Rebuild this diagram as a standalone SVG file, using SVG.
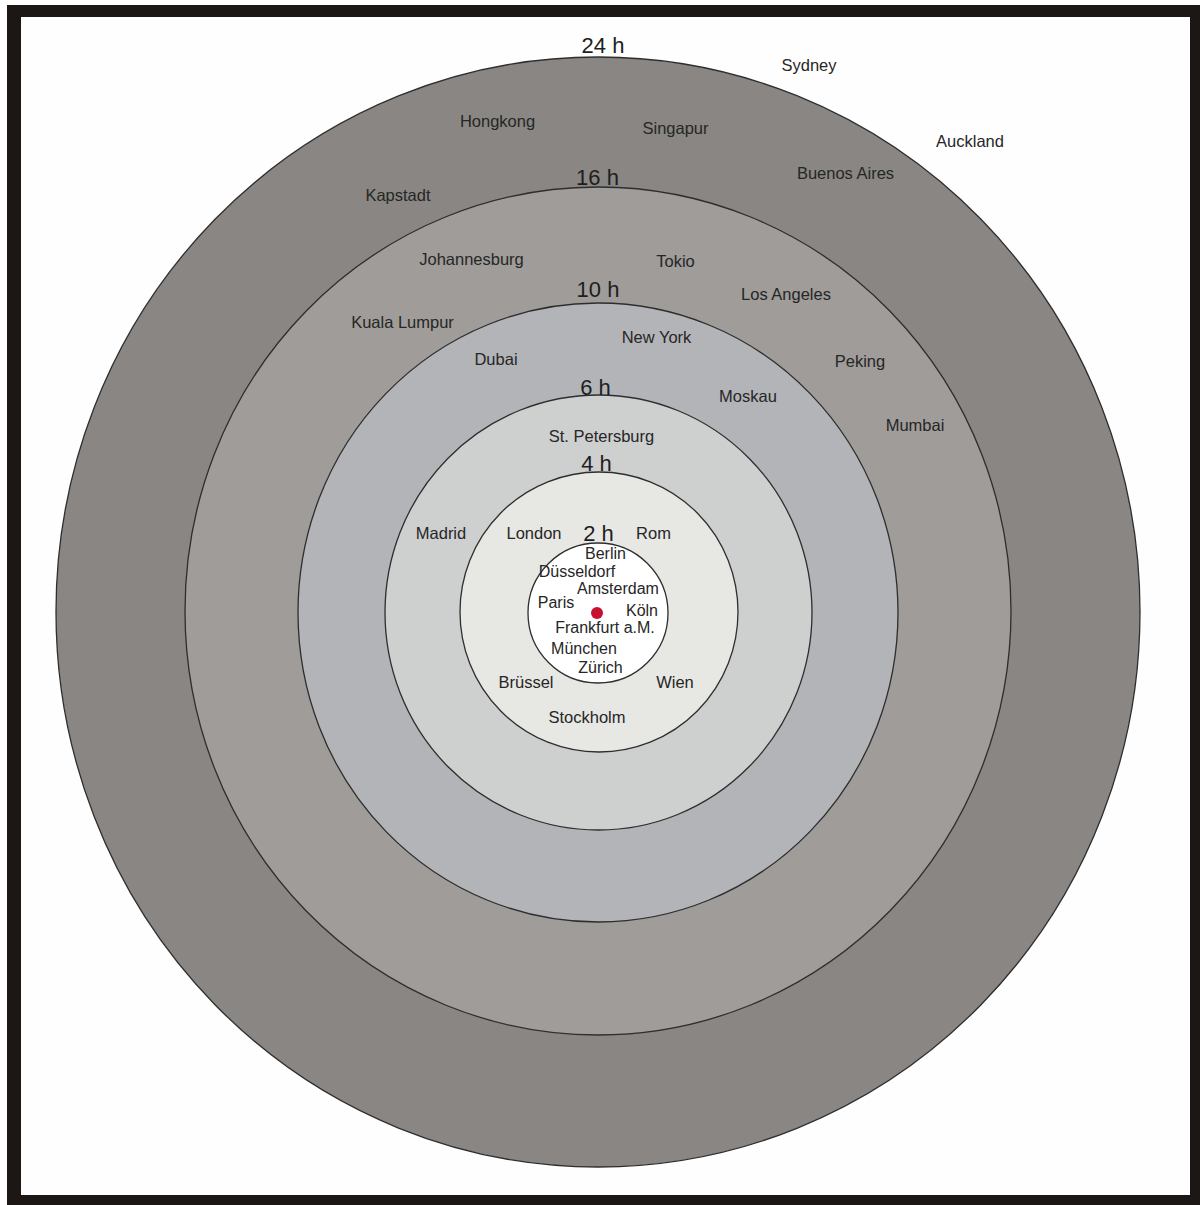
<svg xmlns="http://www.w3.org/2000/svg" width="1200" height="1205" viewBox="0 0 1200 1205">
<style>
.ring{stroke:#2e2e2e;stroke-width:1.3}
.c{font-family:"Liberation Sans",Arial,sans-serif;font-size:16.5px;fill:#262626;text-anchor:middle}
.s{font-size:16px}
.h{font-family:"Liberation Sans",Arial,sans-serif;font-size:22px;fill:#1e1e1e;text-anchor:middle}
</style>
<rect x="0" y="0" width="1200" height="1205" fill="#ffffff"/>
<rect x="7" y="5" width="1193" height="1200" fill="#1c1615"/>
<rect x="21" y="17" width="1169" height="1178" fill="#fefefe"/>
<g id="rings">
<ellipse id="ring-24h" class="ring" cx="598" cy="612" rx="542" ry="555" fill="#898683"/>
<ellipse id="ring-16h" class="ring" cx="598" cy="611" rx="413" ry="424" fill="#9f9c99"/>
<ellipse id="ring-10h" class="ring" cx="598" cy="612.5" rx="300" ry="309.5" fill="#b3b4b7"/>
<ellipse id="ring-6h" class="ring" cx="598.5" cy="612.5" rx="213.5" ry="217.5" fill="#cecfcf"/>
<ellipse id="ring-4h" class="ring" cx="599" cy="612" rx="139" ry="140" fill="#e7e7e4"/>
<ellipse id="ring-2h" class="ring" cx="598" cy="613" rx="70" ry="70" fill="#ffffff"/>
<circle id="center-dot" cx="597" cy="613" r="6" fill="#c8102e"/>
</g>
<g id="hours">
<text class="h" x="603" y="53">24 h</text>
<text class="h" x="597.5" y="185">16 h</text>
<text class="h" x="598" y="297">10 h</text>
<text class="h" x="595.5" y="395">6 h</text>
<text class="h" x="596.5" y="471">4 h</text>
<text class="h" x="598.5" y="541">2 h</text>
</g>
<g id="cities">
<text class="c" x="809" y="71">Sydney</text>
<text class="c" x="497.5" y="127">Hongkong</text>
<text class="c" x="675.5" y="134">Singapur</text>
<text class="c" x="970" y="147">Auckland</text>
<text class="c" x="845.5" y="179">Buenos Aires</text>
<text class="c" x="398" y="201">Kapstadt</text>
<text class="c" x="471.5" y="265">Johannesburg</text>
<text class="c" x="675.5" y="267">Tokio</text>
<text class="c" x="786" y="300">Los Angeles</text>
<text class="c" x="402.5" y="328">Kuala Lumpur</text>
<text class="c" x="656.5" y="343">New York</text>
<text class="c" x="496" y="365">Dubai</text>
<text class="c" x="860" y="367">Peking</text>
<text class="c" x="748" y="402">Moskau</text>
<text class="c" x="915" y="431">Mumbai</text>
<text class="c" x="601.5" y="442">St. Petersburg</text>
<text class="c" x="441" y="539">Madrid</text>
<text class="c" x="534" y="539">London</text>
<text class="c" x="653.5" y="539">Rom</text>
<text class="c s" x="605.5" y="559">Berlin</text>
<text class="c s" x="577" y="577">Düsseldorf</text>
<text class="c s" x="618" y="594">Amsterdam</text>
<text class="c s" x="556" y="608">Paris</text>
<text class="c s" x="642" y="616">Köln</text>
<text class="c s" x="605" y="633">Frankfurt a.M.</text>
<text class="c s" x="584" y="654">München</text>
<text class="c s" x="600.5" y="673">Zürich</text>
<text class="c" x="526" y="688">Brüssel</text>
<text class="c" x="675" y="688">Wien</text>
<text class="c" x="587" y="723">Stockholm</text>
</g>
<g id="connectors"/>
</svg>
